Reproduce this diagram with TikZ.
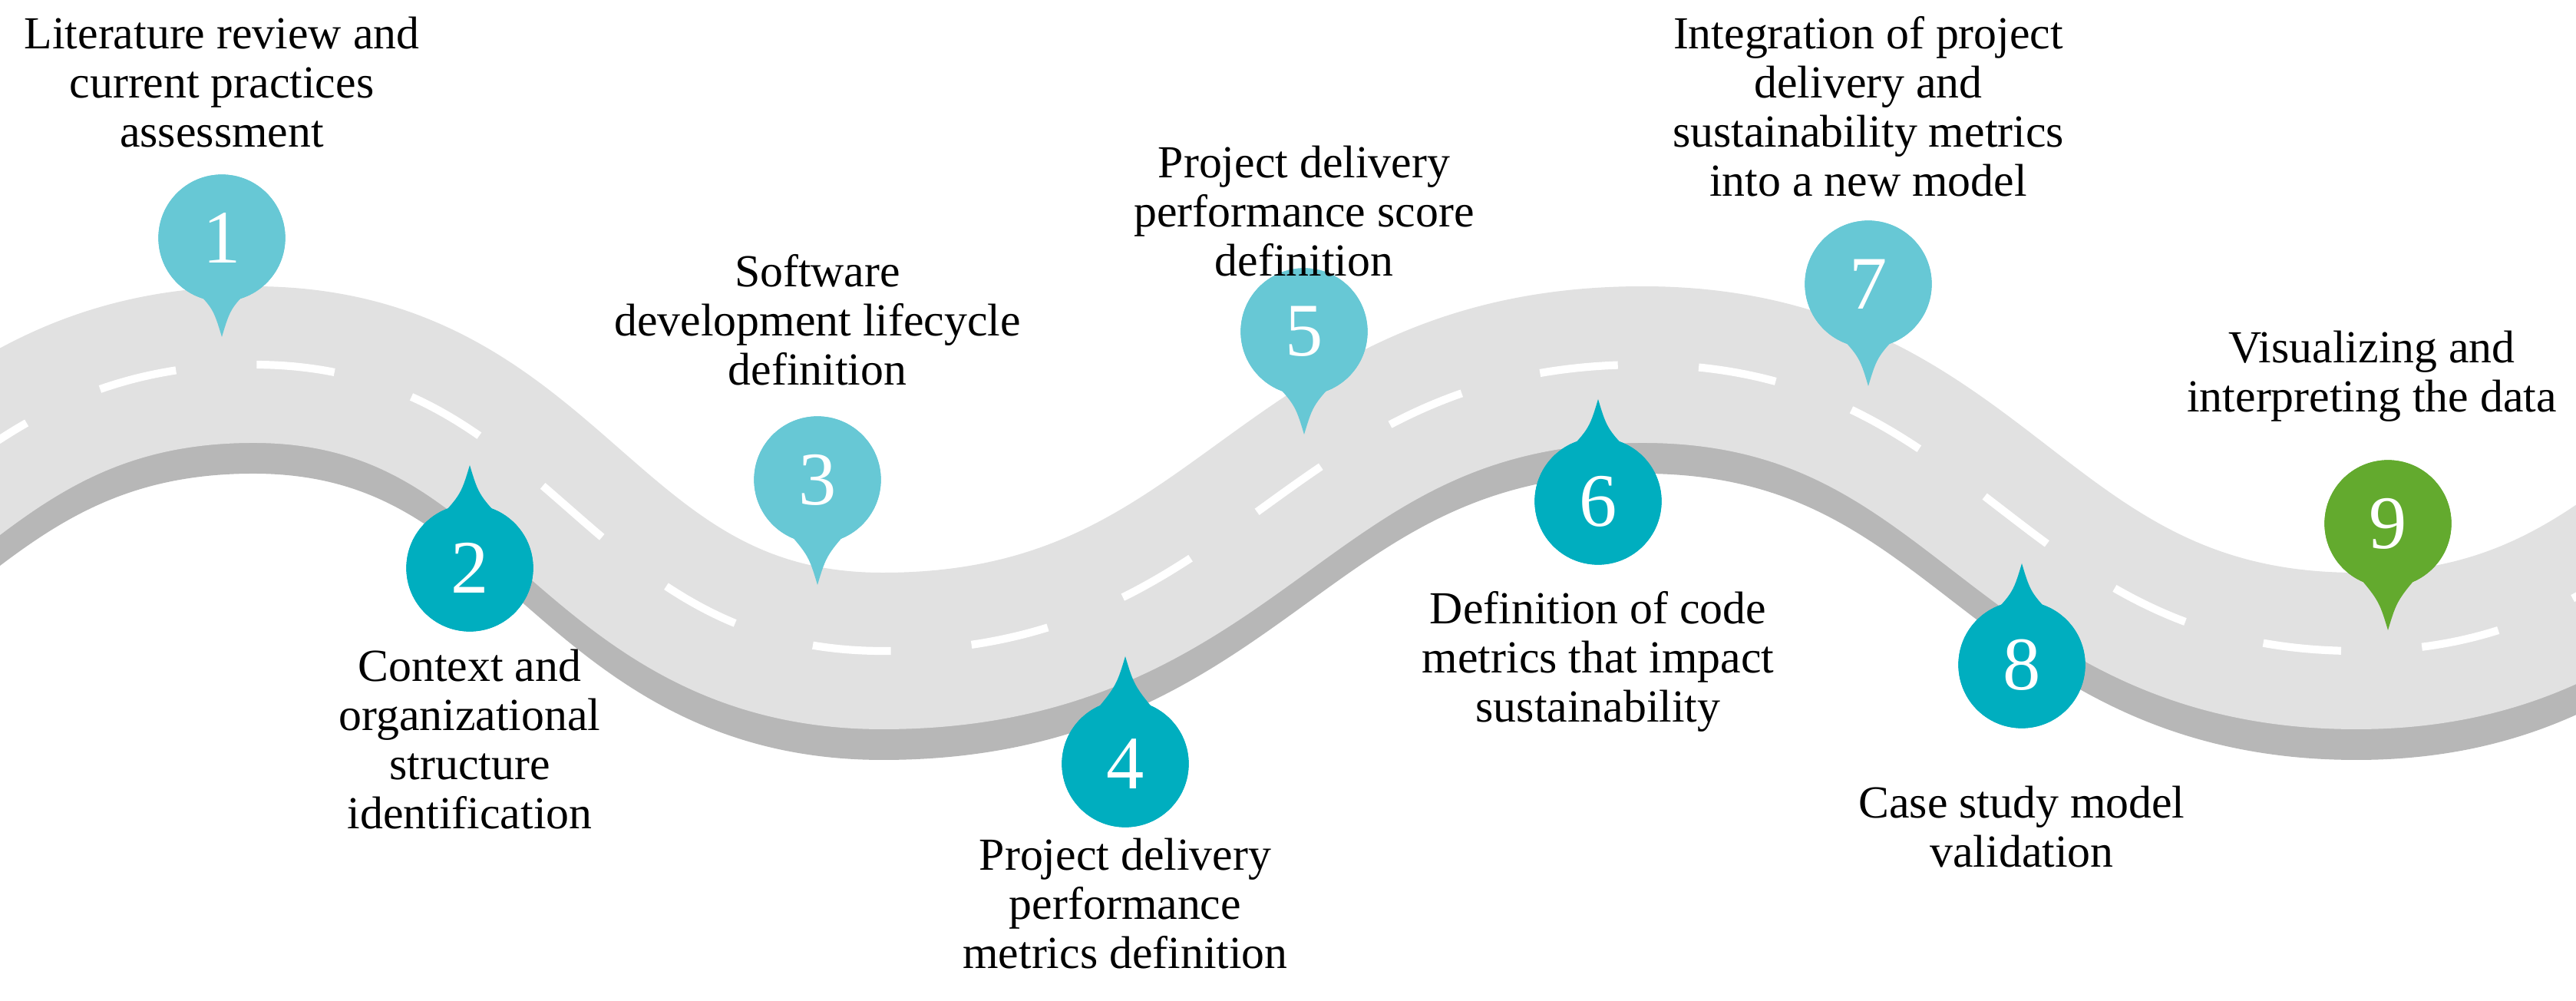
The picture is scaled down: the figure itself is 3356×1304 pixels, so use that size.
\documentclass[tikz,border=0pt]{standalone}
\usepackage{fontspec}
\setmainfont{Liberation Serif}
\definecolor{roadL}{HTML}{E1E1E1}
\definecolor{roadD}{HTML}{B7B7B7}
\definecolor{tealL}{HTML}{67C8D5}
\definecolor{tealD}{HTML}{00AEBF}
\definecolor{pgreen}{HTML}{63AA2E}
\tikzset{
  pin/.style={circle, fill=#1, minimum size=47pt, inner sep=0pt, text=white, font=\fontsize{28}{28}\selectfont},
  lbl/.style={align=center, font=\fontsize{17}{18.2}\selectfont, text=black},
  road/.style={line width=58pt},
}
\newcommand{\spikedown}[3]{\fill[#1] ($(#2)+(0,#3)$) .. controls ($(#2)+(-12,#3-40)$) .. ($(#2)+(-55,50)$) -- ($(#2)+(55,50)$) .. controls ($(#2)+(12,#3-40)$) .. ($(#2)+(0,#3)$);}
\newcommand{\spikeup}[3]{\fill[#1] ($(#2)+(0,-#3)$) .. controls ($(#2)+(-12,-#3+40)$) .. ($(#2)+(-55,-50)$) -- ($(#2)+(55,-50)$) .. controls ($(#2)+(12,-#3+40)$) .. ($(#2)+(0,-#3)$);}
\usetikzlibrary{calc}
\begin{document}
\begin{tikzpicture}[x=0.01cm,y=-0.01cm]
\useasboundingbox (0,0) rectangle (3356,1304);
\clip (0,0) rectangle (3356,1304);
\def\roadpath{(-570,848) .. controls (-138,848) and (-102,475) .. (330,475)
 .. controls (724,475) and (756,848) .. (1150,848)
 .. controls (1625,848) and (1665,475) .. (2140,475)
 .. controls (2586,475) and (2624,848) .. (3070,848)
 .. controls (3502,848) and (3538,475) .. (3970,475)}
\draw[road, roadD, shift={(0,40)}] \roadpath;
\draw[road, roadL] \roadpath;
\draw[white, line width=2.9pt, dash pattern=on 29pt off 30pt, dash phase=10pt] \roadpath;
% pins
\node[pin=tealL] (p1) at (289,310) {1}; \spikedown{tealL}{p1}{129}
\node[pin=tealD] (p2) at (612,740) {2}; \spikeup{tealD}{p2}{134}
\node[pin=tealL] (p3) at (1065,625) {3}; \spikedown{tealL}{p3}{137}
\node[pin=tealD] (p4) at (1466,995) {4}; \spikeup{tealD}{p4}{140}
\node[pin=tealL] (p5) at (1699,432) {5}; \spikedown{tealL}{p5}{134}
\node[pin=tealD] (p6) at (2082,653) {6}; \spikeup{tealD}{p6}{133}
\node[pin=tealL] (p7) at (2434,370) {7}; \spikedown{tealL}{p7}{133}
\node[pin=tealD] (p8) at (2634,866) {8}; \spikeup{tealD}{p8}{132}
\node[pin=pgreen] (p9) at (3111,682) {9}; \spikedown{pgreen}{p9}{139}
\foreach \n/\c/\t in {p1/tealL/1,p2/tealD/2,p3/tealL/3,p4/tealD/4,p5/tealL/5,p6/tealD/6,p7/tealL/7,p8/tealD/8,p9/pgreen/9}{
  \node[pin=\c] at (\n) {\t};}
% labels
\node[lbl] (t1) at (289,107) {Literature review and\\current practices\\assessment};
\node[lbl] (t2) at (612,963) {Context and\\organizational\\structure\\identification};
\node[lbl] (t3) at (1065,417) {Software\\development lifecycle\\definition};
\node[lbl] (t4) at (1466,1177) {Project delivery\\performance\\metrics definition};
\node[lbl] (t5) at (1699,275) {Project delivery\\performance score\\definition};
\node[lbl] (t6) at (2082,862) {Definition of code\\metrics that impact\\sustainability};
\node[lbl] (t7) at (2434,139) {Integration of project\\delivery and\\sustainability metrics\\into a new model};
\node[lbl] (t8) at (2634,1077) {Case study model\\validation};
\node[lbl] (t9) at (3090,490) {Visualizing and\\interpreting the data};
\end{tikzpicture}
\end{document}
